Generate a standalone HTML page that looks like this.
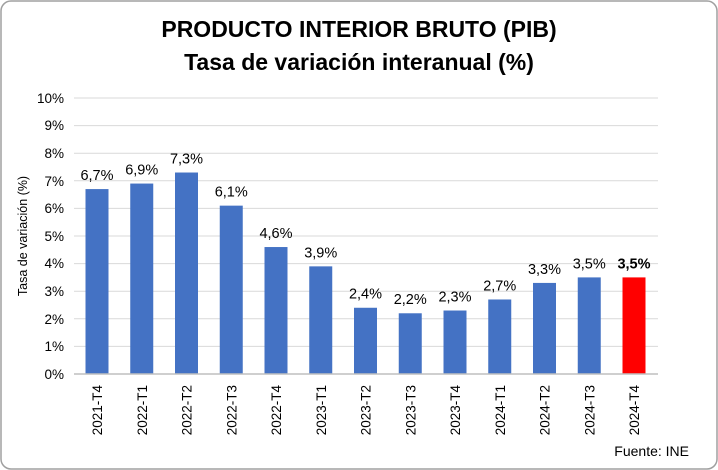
<!DOCTYPE html><html><head><style>body{margin:0;background:#fff}svg{display:block}</style></head><body>
<svg width="718" height="470" xmlns="http://www.w3.org/2000/svg" font-family="Liberation Sans, sans-serif">
<rect x="1" y="1" width="716" height="468" rx="10" fill="#fff" stroke="#a0a0a0" stroke-width="1.5"/>
<text x="359" y="37" text-anchor="middle" font-size="23" font-weight="bold">PRODUCTO INTERIOR BRUTO (PIB)</text>
<text x="359" y="70" text-anchor="middle" font-size="23" font-weight="bold">Tasa de variación interanual (%)</text>
<g stroke="#d9d9d9" stroke-width="1">
<line x1="74" x2="658" y1="98" y2="98"/><line x1="74" x2="658" y1="125.6" y2="125.6"/><line x1="74" x2="658" y1="153.2" y2="153.2"/><line x1="74" x2="658" y1="180.8" y2="180.8"/><line x1="74" x2="658" y1="208.4" y2="208.4"/><line x1="74" x2="658" y1="236" y2="236"/><line x1="74" x2="658" y1="263.6" y2="263.6"/><line x1="74" x2="658" y1="291.2" y2="291.2"/><line x1="74" x2="658" y1="318.8" y2="318.8"/><line x1="74" x2="658" y1="346.4" y2="346.4"/>
</g>
<g font-size="13.5" text-anchor="end" fill="#000">
<text x="64" y="103">10%</text><text x="64" y="130">9%</text><text x="64" y="158">8%</text><text x="64" y="186">7%</text><text x="64" y="213">6%</text><text x="64" y="241">5%</text><text x="64" y="268">4%</text><text x="64" y="296">3%</text><text x="64" y="324">2%</text><text x="64" y="351">1%</text><text x="64" y="379">0%</text>
</g>
<text transform="translate(27,236) rotate(-90)" text-anchor="middle" font-size="12.5">Tasa de variación (%)</text>
<g fill="#4472c4">
<rect x="85.5" y="189.08" width="23" height="184.92"/>
<rect x="130.25" y="183.56" width="23" height="190.44"/>
<rect x="175" y="172.52" width="23" height="201.48"/>
<rect x="219.75" y="205.64" width="23" height="168.36"/>
<rect x="264.5" y="247.04" width="23" height="126.96"/>
<rect x="309.25" y="266.36" width="23" height="107.64"/>
<rect x="354" y="307.76" width="23" height="66.24"/>
<rect x="398.75" y="313.28" width="23" height="60.72"/>
<rect x="443.5" y="310.52" width="23" height="63.48"/>
<rect x="488.25" y="299.48" width="23" height="74.52"/>
<rect x="533" y="282.92" width="23" height="91.08"/>
<rect x="577.75" y="277.4" width="23" height="96.6"/>
<rect x="622.5" y="277.4" width="23" height="96.6" fill="#ff0000"/>
</g>
<g font-size="14.5" text-anchor="middle">
<text x="97" y="180">6,7%</text>
<text x="141.75" y="174.5">6,9%</text>
<text x="186.5" y="163.5">7,3%</text>
<text x="231.25" y="196.5">6,1%</text>
<text x="276" y="238">4,6%</text>
<text x="320.75" y="257.3">3,9%</text>
<text x="365.5" y="298.7">2,4%</text>
<text x="410.25" y="304.2">2,2%</text>
<text x="455" y="301.5">2,3%</text>
<text x="499.75" y="290.4">2,7%</text>
<text x="544.5" y="273.9">3,3%</text>
<text x="589.25" y="268.4">3,5%</text>
<text x="634" y="268.4" font-weight="bold">3,5%</text>
</g>
<g font-size="13.5" text-anchor="end">
<text transform="translate(102,385) rotate(-90)">2021-T4</text>
<text transform="translate(146.75,385) rotate(-90)">2022-T1</text>
<text transform="translate(191.5,385) rotate(-90)">2022-T2</text>
<text transform="translate(236.25,385) rotate(-90)">2022-T3</text>
<text transform="translate(281,385) rotate(-90)">2022-T4</text>
<text transform="translate(325.75,385) rotate(-90)">2023-T1</text>
<text transform="translate(370.5,385) rotate(-90)">2023-T2</text>
<text transform="translate(415.25,385) rotate(-90)">2023-T3</text>
<text transform="translate(460,385) rotate(-90)">2023-T4</text>
<text transform="translate(504.75,385) rotate(-90)">2024-T1</text>
<text transform="translate(549.5,385) rotate(-90)">2024-T2</text>
<text transform="translate(594.25,385) rotate(-90)">2024-T3</text>
<text transform="translate(639,385) rotate(-90)">2024-T4</text>
</g>
<line x1="74" x2="658" y1="374" y2="374" stroke="#bfbfbf" stroke-width="1.5"/>
<text x="689" y="456" text-anchor="end" font-size="14">Fuente: INE</text>
</svg></body></html>
